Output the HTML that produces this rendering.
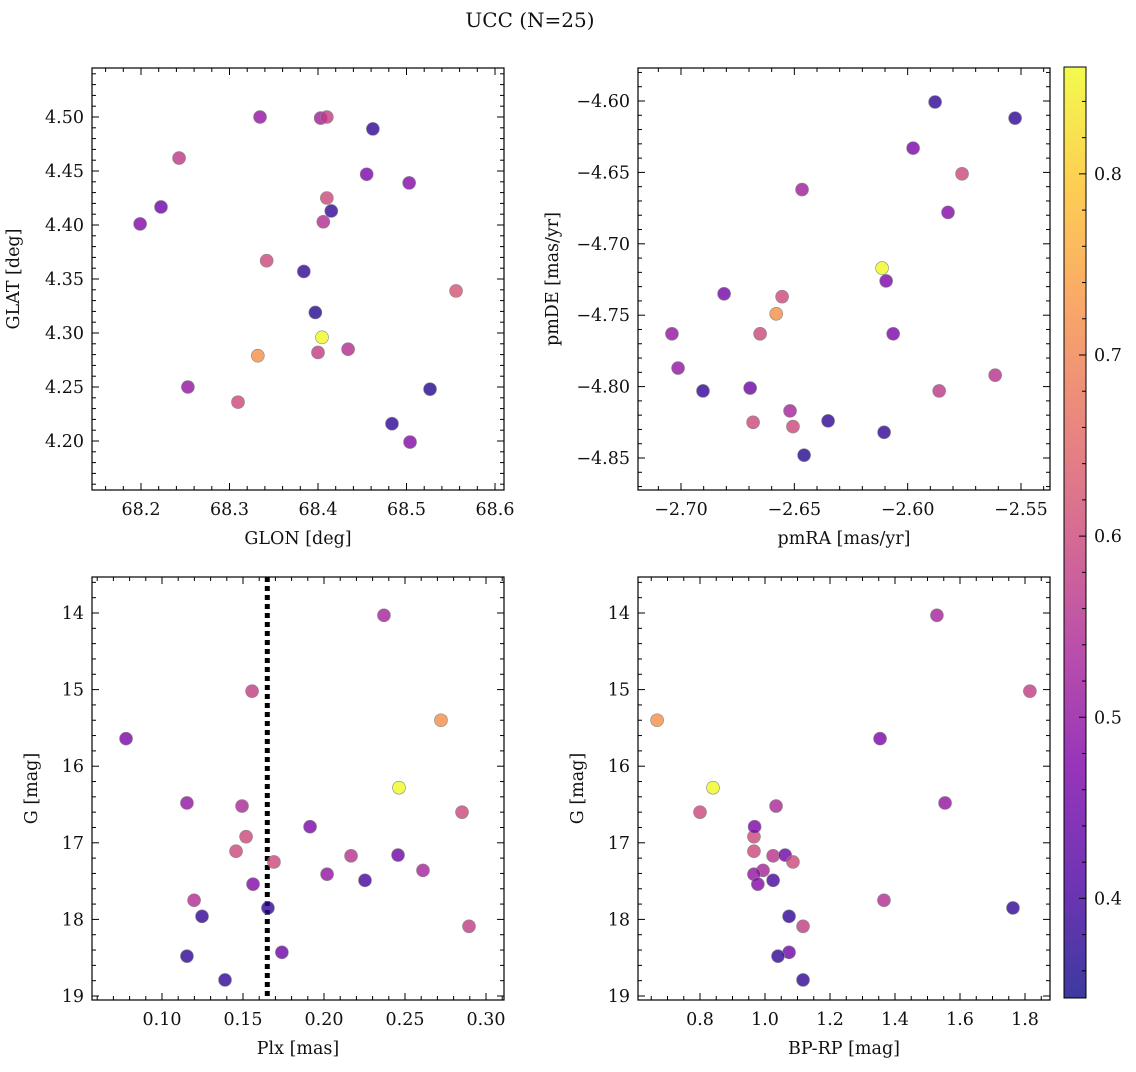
<!DOCTYPE html>
<html><head><meta charset="utf-8"><style>
body{margin:0;background:#fff;}
svg text{font-family:"DejaVu Serif","Liberation Serif",serif;fill:#111;}
</style></head><body>
<svg id="fig" width="1136" height="1067" viewBox="0 0 1136 1067" xmlns="http://www.w3.org/2000/svg">
<defs><linearGradient id="cbg" x1="0" y1="1" x2="0" y2="0">
<stop offset="0" stop-color="#0d0887"/><stop offset="0.125" stop-color="#4c02a1"/><stop offset="0.25" stop-color="#7e03a8"/><stop offset="0.375" stop-color="#a92395"/><stop offset="0.5" stop-color="#cc4778"/><stop offset="0.625" stop-color="#e56b5d"/><stop offset="0.75" stop-color="#f89441"/><stop offset="0.875" stop-color="#fdc328"/><stop offset="1" stop-color="#f0f921"/></linearGradient></defs>
<text x="530" y="27" font-size="20" text-anchor="middle">UCC (N=25)</text>
</svg>
<script>
// ---- data ----
const glon=[68.3345,68.403,68.410,68.462,68.243,68.455,68.503,68.410,68.2226,68.415,68.199,68.406,68.342,68.384,68.556,68.397,68.4045,68.332,68.400,68.434,68.253,68.5266,68.3096,68.4836,68.504];
const glat=[4.500,4.499,4.500,4.489,4.462,4.447,4.439,4.425,4.4167,4.413,4.401,4.403,4.367,4.357,4.339,4.319,4.296,4.279,4.282,4.285,4.250,4.248,4.236,4.216,4.199];
const c1=[0.50,0.52,0.58,0.38,0.57,0.47,0.48,0.60,0.45,0.38,0.48,0.55,0.60,0.38,0.62,0.37,0.86,0.72,0.58,0.55,0.50,0.37,0.60,0.38,0.48];
const pmra=[-2.5879,-2.5526,-2.5976,-2.576,-2.6466,-2.5822,-2.6113,-2.6095,-2.681,-2.6554,-2.658,-2.704,-2.6651,-2.6064,-2.7013,-2.5614,-2.6903,-2.6695,-2.5861,-2.6519,-2.6682,-2.6506,-2.6351,-2.6104,-2.6457];
const pmde=[-4.6007,-4.612,-4.633,-4.651,-4.662,-4.678,-4.717,-4.726,-4.735,-4.737,-4.749,-4.763,-4.763,-4.763,-4.787,-4.792,-4.803,-4.801,-4.803,-4.817,-4.825,-4.828,-4.824,-4.832,-4.848];
const c2=[0.38,0.38,0.47,0.60,0.52,0.48,0.86,0.47,0.46,0.60,0.72,0.50,0.60,0.47,0.50,0.56,0.38,0.45,0.57,0.53,0.60,0.60,0.38,0.38,0.37];
const plx=[0.237,0.1556,0.2722,0.0778,0.2463,0.1154,0.1494,0.2852,0.1519,0.1914,0.1457,0.2167,0.2457,0.1691,0.2611,0.2019,0.2253,0.1562,0.1198,0.1654,0.1247,0.2895,0.174,0.1154,0.1389];
const gmag=[14.03,15.02,15.40,15.64,16.28,16.48,16.52,16.60,16.92,16.79,17.11,17.17,17.16,17.25,17.36,17.41,17.49,17.54,17.75,17.85,17.96,18.09,18.43,18.48,18.79];
const bprp=[1.529,1.815,0.668,1.354,0.84,1.554,1.034,0.80,0.966,0.968,0.966,1.025,1.062,1.086,0.994,0.966,1.025,0.978,1.366,1.763,1.074,1.117,1.074,1.04,1.117];
const c3=[0.53,0.58,0.72,0.47,0.86,0.50,0.54,0.60,0.60,0.47,0.60,0.56,0.45,0.60,0.53,0.50,0.40,0.48,0.55,0.38,0.38,0.58,0.45,0.38,0.38];
const plxLine=0.165;
const cmin=0.345, cmax=0.859;
// ---- helpers ----
const NS="http://www.w3.org/2000/svg", svg=document.getElementById('fig');
function mk(tag,at,parent){const e=document.createElementNS(NS,tag);for(const k in at)e.setAttribute(k,at[k]);(parent||svg).appendChild(e);return e;}
const stops=[[13,8,135],[76,2,161],[126,3,168],[169,35,149],[204,71,120],[229,107,93],[248,148,65],[253,195,40],[240,249,33]];
function cmap(v){let t=(v-cmin)/(cmax-cmin);t=Math.max(0,Math.min(1,t))*8;const i=Math.min(7,Math.floor(t)),f=t-i;const a=stops[i],b=stops[i+1];return `rgb(${a.map((x,k)=>Math.round(x+(b[k]-x)*f)).join(',')})`;}
function lin(d0,d1,r0,r1){return v=>r0+(v-d0)*(r1-r0)/(d1-d0);}
function panel(o){
 const g=mk('g',{});
 
 
 const X=lin(o.xd[0],o.xd[1],o.L,o.R), Y=lin(o.yd[0],o.yd[1],o.B,o.T);
 function ticks(major,step,minor,isX){
  const lo=isX?Math.min(...o.xd):Math.min(...o.yd), hi=isX?Math.max(...o.xd):Math.max(...o.yd);
  for(let v=Math.ceil(lo/minor-1e-6)*minor;v<=hi+1e-9;v+=minor){
   const isMaj=Math.abs(v/step-Math.round(v/step))<1e-4; const len=isMaj?7:4;
   if(isX){const x=X(v);mk('line',{x1:x,x2:x,y1:o.B,y2:o.B-len,stroke:'#000','stroke-width':1},g);mk('line',{x1:x,x2:x,y1:o.T,y2:o.T+len,stroke:'#000','stroke-width':1},g);}
   else{const y=Y(v);mk('line',{x1:o.L,x2:o.L+len,y1:y,y2:y,stroke:'#000','stroke-width':1},g);mk('line',{x1:o.R,x2:o.R-len,y1:y,y2:y,stroke:'#000','stroke-width':1},g);}
  }
  major.forEach(v=>{
   const t=isX?mk('text',{x:X(v),y:o.B+25,'font-size':17.5,'text-anchor':'middle'},g):mk('text',{x:o.L-8,y:Y(v)+6,'font-size':17.5,'text-anchor':'end'},g);
   t.textContent=(v<0?'\u2212':'')+Math.abs(v).toFixed(isX?o.xdec:o.ydec);
   
   
  });
 }
 ticks(o.xt,o.xstep,o.xminor,true);ticks(o.yt,o.ystep,o.yminor,false);
 if(o.vline!==undefined){const l=mk('line',{x1:X(o.vline),x2:X(o.vline),y1:o.T,y2:o.B,stroke:'#000','stroke-width':5,'stroke-dasharray':'5,4'},g);
  
  }
 o.x.forEach((xv,i)=>{const p=mk('circle',{cx:X(xv),cy:Y(o.y[i]),r:6.5,fill:cmap(o.c[i]),'fill-opacity':0.8,stroke:'#888','stroke-width':0.6},g);
  
  });
 const fr=mk('rect',{x:o.L,y:o.T,width:o.R-o.L,height:o.B-o.T,fill:'none',stroke:'#000','stroke-width':1.2},g);
 
 
 const xl=mk('text',{x:(o.L+o.R)/2,y:o.B+54,'font-size':17.5,'text-anchor':'middle'},g);xl.textContent=o.xlab;
 
 
 const yx=o.L-o.ylo, yy=(o.T+o.B)/2;
 const yl=mk('text',{x:yx,y:yy,'font-size':17.5,'text-anchor':'middle',transform:`rotate(-90 ${yx} ${yy})`},g);yl.textContent=o.ylab;
 
 
}
const rng=(a,b,s)=>{const r=[];for(let v=a;v<=b+1e-9;v+=s)r.push(+v.toFixed(4));return r;};
const gd=[19+4/76.6,14-36/76.6];
panel({name:'panel-glon-glat',L:92,R:504,T:68,B:490,xd:[68.2-49/885,68.6+9/885],yd:[4.20-49/1080,4.50+49/1080],x:glon,y:glat,c:c1,
 xt:rng(68.2,68.6,0.1),xstep:0.1,xminor:0.02,xdec:1,yt:rng(4.20,4.50,0.05),ystep:0.05,yminor:0.01,ydec:2,xlab:'GLON [deg]',ylab:'GLAT [deg]',ylo:73});
panel({name:'panel-pmra-pmde',L:638,R:1050,T:68,B:490,xd:[-2.70-43*0.05/113.3,-2.55+29*0.05/113.3],yd:[-4.85-32*0.05/71.4,-4.60+33*0.05/71.4],x:pmra,y:pmde,c:c2,
 xt:rng(-2.70,-2.55,0.05),xstep:0.05,xminor:0.01,xdec:2,yt:rng(-4.85,-4.60,0.05),ystep:0.05,yminor:0.01,ydec:2,xlab:'pmRA [mas/yr]',ylab:'pmDE [mas/yr]',ylo:80});
panel({name:'panel-plx-g',L:92,R:504,T:577,B:1000,xd:[0.10-70*0.05/81,0.30+18*0.05/81],yd:gd,x:plx,y:gmag,c:c3,vline:plxLine,
 xt:rng(0.10,0.30,0.05),xstep:0.05,xminor:0.01,xdec:2,yt:rng(14,19,1),ystep:1,yminor:0.2,ydec:0,xlab:'Plx [mas]',ylab:'G [mag]',ylo:55});
panel({name:'panel-bprp-g',L:638,R:1050,T:577,B:1000,xd:[0.8-62*0.2/65,1.8+25*0.2/65],yd:gd,x:bprp,y:gmag,c:c3,
 xt:rng(0.8,1.8,0.2),xstep:0.2,xminor:0.05,xdec:1,yt:rng(14,19,1),ystep:1,yminor:0.2,ydec:0,xlab:'BP-RP [mag]',ylab:'G [mag]',ylo:55});
// colorbar
const cb=mk('g',{});


mk('rect',{x:1064,y:67,width:22,height:931,fill:'url(#cbg)','fill-opacity':0.8},cb);
mk('rect',{x:1064,y:67,width:22,height:931,fill:'none',stroke:'#000','stroke-width':1},cb);
const CY=lin(cmin,cmax,998,67);
for(let v=0.36;v<=0.859;v+=0.02){const y=CY(v);const maj=Math.abs(v*10-Math.round(v*10))<1e-4;mk('line',{x1:1086,x2:1086-(maj?7:4),y1:y,y2:y,stroke:'#000'},cb);
 if(maj){const t=mk('text',{x:1094,y:y+6,'font-size':17.5},cb);t.textContent=v.toFixed(1);
  
  }}
</script>
</body></html>
